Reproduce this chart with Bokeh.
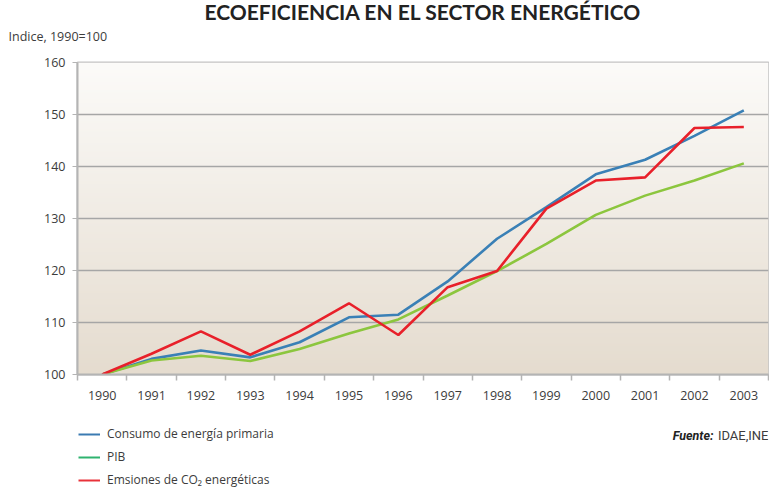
import numpy as np
from bokeh.plotting import figure
from bokeh.layouts import column
from bokeh.models import (Range1d, FixedTicker, Label, Legend, LegendItem, Title)
from bokeh.embed import file_html
from bokeh.resources import INLINE

years = ["1990", "1991", "1992", "1993", "1994", "1995", "1996",
         "1997", "1998", "1999", "2000", "2001", "2002", "2003"]
consumo = [100.0, 103.0, 104.6, 103.3, 106.2, 111.0, 111.5,
           117.9, 126.1, 132.2, 138.5, 141.3, 145.9, 150.8]
pib = [100.0, 102.7, 103.6, 102.6, 104.9, 107.9, 110.6,
       115.2, 119.9, 125.1, 130.7, 134.4, 137.3, 140.6]
co2 = [100.0, 104.0, 108.3, 103.8, 108.3, 113.7, 107.6,
       116.8, 119.9, 131.9, 137.3, 137.9, 147.4, 147.6]
y_ticks = [100, 110, 120, 130, 140, 150, 160]
series_names = ["Consumo de energía primaria", "PIB", "Emsiones de CO\u2082 energéticas"]

FONT = "'Open Sans', sans-serif"
TITLE_FONT = "Lato, 'Open Sans', sans-serif"
SRC_FONT = "Roboto, sans-serif"
TXT = "#3c3c3c"

xs = list(range(len(years)))
x0, x1 = -0.5, len(years) - 0.5
y0, y1 = y_ticks[0], y_ticks[-1]

W = 769
LEFT, RIGHT = 77, 1
p = figure(width=W, height=420, output_backend="svg", toolbar_location=None,
           x_range=Range1d(x0, x1), y_range=Range1d(y0, y1),
           min_border_left=LEFT, min_border_right=RIGHT, min_border_top=62,
           min_border_bottom=46)
p.background_fill_color = "white"
p.border_fill_color = "white"
p.outline_line_color = "#c4c4c4"
p.outline_line_width = 2

# background gradient
n = 200
top = np.array([252, 251, 249])
bot = np.array([229, 220, 207])
t = np.linspace(0, 1, n)[:, None]
cols = (bot * (1 - t) + top * t).astype(np.uint32)
img = np.empty((n, 1), dtype=np.uint32)
view = img.view(dtype=np.uint8).reshape((n, 1, 4))
view[:, 0, 0] = cols[:, 0]
view[:, 0, 1] = cols[:, 1]
view[:, 0, 2] = cols[:, 2]
view[:, 0, 3] = 255
p.image_rgba(image=[img], x=x0, y=y0, dw=x1 - x0, dh=y1 - y0, level="image")

p.line(xs, consumo, line_color="#3a80b6", line_width=2.6)
p.line(xs, pib, line_color="#8cc63e", line_width=2.6)
p.line(xs, co2, line_color="#e8202a", line_width=2.6)

# axes
p.xgrid.visible = False
p.ygrid.ticker = FixedTicker(ticks=y_ticks)
p.ygrid.grid_line_color = "#a6a6a6"
p.ygrid.grid_line_width = 1.6

p.yaxis.ticker = FixedTicker(ticks=y_ticks)
p.yaxis.axis_line_color = "#b4b4b4"
p.yaxis.axis_line_width = 2
p.yaxis.major_tick_line_color = "#b4b4b4"
p.yaxis.major_tick_out = 5
p.yaxis.major_tick_in = 0
p.yaxis.minor_tick_line_color = None
p.yaxis.major_label_standoff = 7
p.yaxis.major_label_text_font = FONT
p.yaxis.major_label_text_font_size = "12.5px"
p.yaxis.major_label_text_color = TXT

p.xaxis.ticker = FixedTicker(ticks=xs, minor_ticks=[x + 0.5 for x in [-1] + xs])
p.xaxis.major_label_overrides = {i: y for i, y in enumerate(years)}
p.xaxis.axis_line_color = "#b4b4b4"
p.xaxis.axis_line_width = 2
p.xaxis.major_tick_line_color = None
p.xaxis.major_tick_out = 0
p.xaxis.minor_tick_line_color = "#b4b4b4"
p.xaxis.minor_tick_line_width = 1.5
p.xaxis.minor_tick_out = 6
p.xaxis.minor_tick_in = 0
p.xaxis.major_label_standoff = 10
p.xaxis.major_label_text_font = FONT
p.xaxis.major_label_text_font_size = "12.5px"
p.xaxis.major_label_text_color = TXT

# titles
p.add_layout(Title(text="Indice, 1990=100", align="left", offset=-69,
                   text_font=FONT, text_font_style="normal",
                   text_font_size="12.5px", text_color=TXT, standoff=35), "above")
p.add_layout(Title(text="ECOEFICIENCIA EN EL SECTOR ENERGÉTICO", align="center",
                   text_font=TITLE_FONT, text_font_style="bold",
                   text_font_size="21px", text_color="#222222", standoff=-30), "above")

# bottom strip: legend and source (data units equal page pixels)
HB = 68
b = figure(width=W, height=HB, output_backend="svg", toolbar_location=None,
           x_range=Range1d(LEFT, W - RIGHT), y_range=Range1d(0, HB),
           min_border_left=LEFT, min_border_right=RIGHT,
           min_border_top=0, min_border_bottom=0)
b.axis.visible = False
b.grid.visible = False
b.outline_line_color = None
b.background_fill_color = "white"
b.border_fill_color = "white"

nan = float("nan")
r1 = b.line([nan], [nan], line_color="#3b7bb2", line_width=2)
r2 = b.line([nan], [nan], line_color="#2fb36f", line_width=2)
r3 = b.line([nan], [nan], line_color="#e8323a", line_width=2)
legend = Legend(items=[LegendItem(label=series_names[0], renderers=[r1]),
                       LegendItem(label=series_names[1], renderers=[r2]),
                       LegendItem(label=series_names[2], renderers=[r3])],
                location=(1, 0), orientation="vertical",
                glyph_width=22, glyph_height=14, label_height=14,
                label_standoff=7, spacing=6, padding=0, margin=0,
                border_line_color=None, background_fill_alpha=0,
                label_text_font=FONT, label_text_font_size="12px",
                label_text_color=TXT)
b.add_layout(legend, "center")

b.add_layout(Label(x=713, y=53, text="Fuente:", text_font=SRC_FONT,
                   text_font_style="bold italic", text_font_size="12.5px",
                   text_color="#222222", text_align="right", text_baseline="middle"))
b.add_layout(Label(x=768, y=53, text="IDAE,INE", text_font=SRC_FONT,
                   text_font_size="13px", text_color=TXT,
                   text_align="right", text_baseline="middle"))

layout = column(p, b, spacing=0)
open("out.html", "w").write(file_html(layout, INLINE))
